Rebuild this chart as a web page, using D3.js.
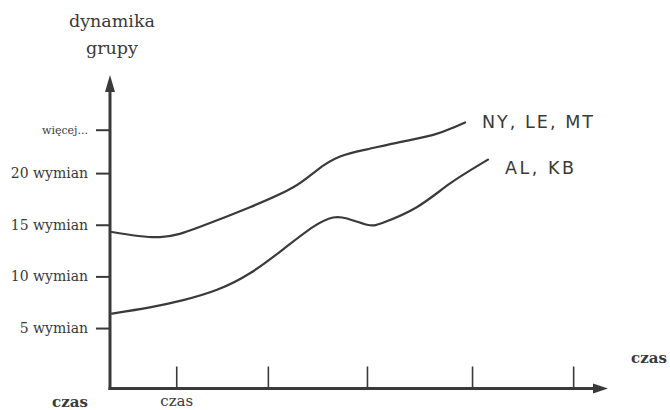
<!DOCTYPE html>
<html><head><meta charset="utf-8">
<script src="https://cdn.jsdelivr.net/npm/d3@7"></script>
<style>body{margin:0;background:#fff}svg{display:block}</style>
</head><body>
<script>
// ---- data ----
const yTickValues = [5, 10, 15, 20, 24.2];
const yTickLabels = ["5 wymian", "10 wymian", "15 wymian", "20 wymian", "więcej..."];
const xTickValues = [13.3, 31.7, 51.6, 72.7, 93.0];
const xTickLabels = ["czas", "", "", "", ""];
const seriesNames = ["NY, LE, MT", "AL, KB"];
const upperX = [0.4, 10, 18.1, 28.1, 36.7, 41.6, 46.2, 51.6, 58.2, 64.9, 68.9, 71.3];
const upperY = [14.3, 13.8, 14.8, 16.7, 18.6, 20.3, 21.6, 22.3, 23.0, 23.7, 24.4, 24.9];
const lowerX = [0.4, 8.0, 14.7, 21.5, 28.1, 34.7, 40.8, 44.8, 47.6, 51.6, 54.8, 61.6, 68.3, 75.9];
const lowerY = [6.4, 7.0, 7.7, 8.7, 10.3, 12.6, 14.8, 15.7, 15.6, 15.0, 15.2, 16.7, 19.0, 21.3];

const W = 670, H = 410;
const ink = "#3a3a3a";
const svg = d3.select("body").append("svg").attr("width", W).attr("height", H);

const x = d3.scaleLinear().domain([0, 100]).range([110, 608]);
const y = d3.scaleLinear().domain([0, 30]).range([379.7, 379.7 - 30 * 10.33]);
const x0 = x(0), yAxisY = 388.5;

// title
const title = svg.append("text").attr("x", 112).attr("text-anchor", "middle")
  .style("font-family", "DejaVu Serif").style("font-size", "17.5px").attr("fill", ink);
title.append("tspan").attr("x", 112).attr("y", 27).text("dynamika");
title.append("tspan").attr("x", 112).attr("y", 54).text("grupy");

// y axis
const yAxis = d3.axisLeft(y).tickValues(yTickValues).tickSize(14).tickPadding(8)
  .tickFormat((d, i) => yTickLabels[i]);
const gy = svg.append("g").attr("transform", `translate(${x0},0)`).call(yAxis);
gy.select(".domain").remove();
gy.selectAll(".tick line").attr("stroke", ink).attr("stroke-width", 2);
gy.selectAll(".tick text").attr("fill", ink).style("font-family", "DejaVu Serif")
  .style("font-size", (d, i) => i === 4 ? "11px" : "14px");

// x axis
const xAxis = d3.axisBottom(x).tickValues(xTickValues).tickSize(-22).tickPadding(7)
  .tickFormat((d, i) => xTickLabels[i]);
const gx = svg.append("g").attr("transform", `translate(0,${yAxisY})`).call(xAxis);
gx.select(".domain").remove();
gx.selectAll(".tick line").attr("stroke", ink).attr("stroke-width", 1.6);
gx.selectAll(".tick text").attr("fill", ink).style("font-family", "DejaVu Serif").style("font-size", "15px");

// axis lines with arrows
svg.append("line").attr("x1", x0).attr("x2", x0).attr("y1", 86).attr("y2", yAxisY + 1.5)
  .attr("stroke", ink).attr("stroke-width", 3);
svg.append("line").attr("x1", x0 - 1.5).attr("x2", 598).attr("y1", yAxisY).attr("y2", yAxisY)
  .attr("stroke", ink).attr("stroke-width", 3);
svg.append("path").attr("d", `M${x0},75 L${x0 - 5},92 L${x0 + 5},92 Z`).attr("fill", ink);
svg.append("path").attr("d", `M608,${yAxisY} L593,${yAxisY - 5} L593,${yAxisY + 5} Z`).attr("fill", ink);

// axis words
svg.append("text").attr("x", 70).attr("y", 407).attr("text-anchor", "middle")
  .style("font-family", "DejaVu Serif").style("font-weight", "bold").style("font-size", "15px")
  .attr("fill", ink).text("czas");
svg.append("text").attr("x", 649).attr("y", 363).attr("text-anchor", "middle")
  .style("font-family", "DejaVu Serif").style("font-weight", "bold").style("font-size", "15px")
  .attr("fill", ink).text("czas");

// curves
const line = d3.line().x(d => x(d[0])).y(d => y(d[1])).curve(d3.curveNatural);
const upper = upperX.map((v, i) => [v, upperY[i]]);
const lower = lowerX.map((v, i) => [v, lowerY[i]]);
[upper, lower].forEach(s => svg.append("path").attr("d", line(s)).attr("fill", "none")
  .attr("stroke", ink).attr("stroke-width", 2.2).attr("stroke-linecap", "round"));

// series labels
svg.append("text").attr("x", 482).attr("y", 128).style("font-family", "DejaVu Sans")
  .style("font-size", "17.5px").attr("fill", ink).attr("textLength", 111)
  .attr("lengthAdjust", "spacing").text(seriesNames[0]);
svg.append("text").attr("x", 505).attr("y", 174).style("font-family", "DejaVu Sans")
  .style("font-size", "17.5px").attr("fill", ink).attr("textLength", 69)
  .attr("lengthAdjust", "spacing").text(seriesNames[1]);
</script>
</body></html>
